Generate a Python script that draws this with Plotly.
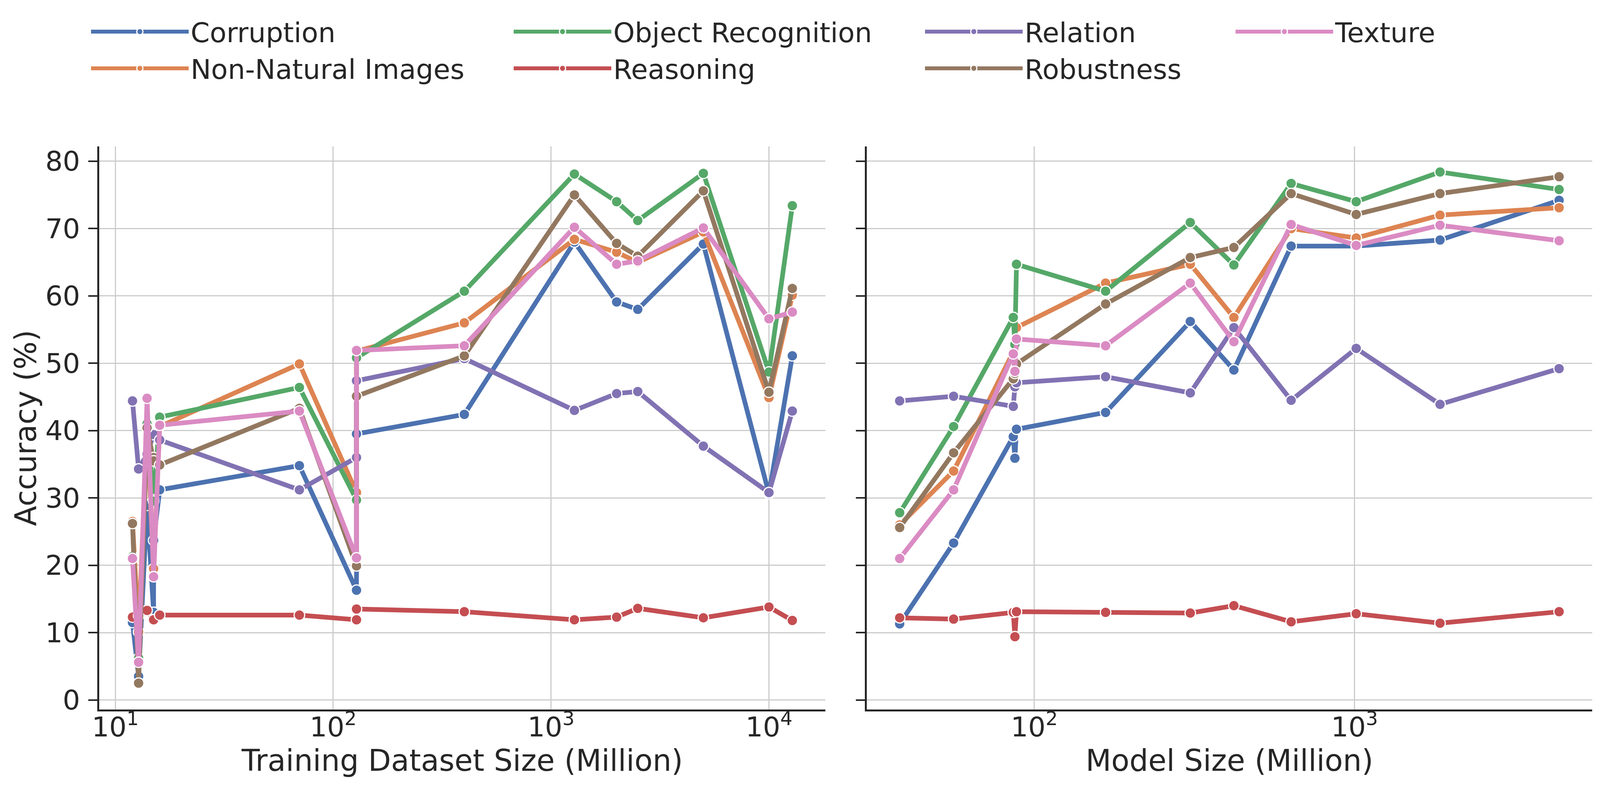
from plotly.graph_objs import Scatter, Figure

FONT = 'DejaVu Sans'
TEXT_COLOUR = '#262626'
GRID_COLOUR = '#cccccc'

CATEGORIES = ['Corruption', 'Non-Natural Images', 'Object Recognition', 'Reasoning',
              'Relation', 'Robustness', 'Texture']
COLOURS = ['#4c72b0', '#dd8452', '#55a868', '#c44e52', '#8172b3', '#937860', '#da8bc3']
LEGENDS = ['legend', 'legend', 'legend2', 'legend2', 'legend3', 'legend3', 'legend4']

# left panel: training dataset size (million)
data_size = [12, 12.8, 14, 15, 15, 16, 70, 128, 128, 400, 1280, 2000, 2500, 5000, 10000, 12800]
data_corruption = [11.5, 3.5, 28.9, 13.0, 23.7, 31.2, 34.8, 16.3, 39.5, 42.4, 68.0, 59.1, 58.0, 67.7, 30.6, 51.1]
data_non_natural = [26.5, 10.1, 40.5, 19.3, 19.5, 40.6, 49.9, 30.8, 51.8, 56.0, 68.4, 66.5, 65.0, 69.5, 44.9, 60.1]
data_object = [21.3, 6.2, 41.0, 29.7, 29.5, 42.0, 46.4, 29.7, 50.8, 60.7, 78.1, 74.0, 71.2, 78.2, 48.7, 73.4]
data_reasoning = [12.3, 12.5, 13.3, 11.9, 11.9, 12.6, 12.6, 11.9, 13.5, 13.1, 11.9, 12.3, 13.6, 12.2, 13.8, 11.8]
data_relation = [44.4, 34.3, 36.5, 39.5, 39.4, 38.6, 31.2, 36.0, 47.4, 50.7, 43.0, 45.5, 45.8, 37.7, 30.8, 42.9]
data_robustness = [26.2, 2.5, 40.4, 36.0, 35.5, 34.9, 43.3, 19.9, 45.1, 51.1, 75.0, 67.8, 65.9, 75.6, 45.7, 61.1]
data_texture = [21.0, 5.6, 44.8, 18.3, 18.3, 40.8, 42.9, 21.1, 51.9, 52.6, 70.2, 64.7, 65.2, 70.1, 56.6, 57.6]

# right panel: model size (million)
model_size = [38, 56, 86, 87, 88, 167, 307, 420, 634, 1012, 1849, 4352]
model_corruption = [11.3, 23.3, 39.1, 35.9, 40.2, 42.7, 56.2, 49.0, 67.4, 67.4, 68.3, 74.2]
model_non_natural = [26.0, 34.0, 51.7, 52.5, 55.3, 61.9, 64.7, 56.8, 70.0, 68.6, 72.0, 73.1]
model_object = [27.8, 40.6, 56.8, 52.8, 64.7, 60.7, 70.9, 64.6, 76.7, 74.0, 78.4, 75.8]
model_reasoning = [12.2, 12.0, 13.0, 9.4, 13.1, 13.0, 12.9, 14.0, 11.6, 12.8, 11.4, 13.1]
model_relation = [44.4, 45.1, 43.6, 46.5, 47.1, 48.0, 45.6, 55.3, 44.5, 52.2, 43.9, 49.2]
model_robustness = [25.6, 36.7, 47.7, 48.5, 49.9, 58.8, 65.7, 67.2, 75.2, 72.1, 75.2, 77.7]
model_texture = [21.0, 31.2, 51.4, 48.8, 53.6, 52.6, 61.9, 53.2, 70.6, 67.5, 70.5, 68.2]

data_ticks = [10, 100, 1000, 10000]
data_tick_text = ['10<sup>1</sup>', '10<sup>2</sup>', '10<sup>3</sup>', '10<sup>4</sup>']
model_ticks = [100, 1000]
model_tick_text = ['10<sup>2</sup>', '10<sup>3</sup>']

data_series = [data_corruption, data_non_natural, data_object, data_reasoning,
               data_relation, data_robustness, data_texture]
model_series = [model_corruption, model_non_natural, model_object, model_reasoning,
                model_relation, model_robustness, model_texture]


def make_trace(x, y, name, colour, xaxis, yaxis, legend, show):
    return Scatter(x=x, y=y, name=name, mode='lines+markers',
                   xaxis=xaxis, yaxis=yaxis,
                   line=dict(color=colour, width=12),
                   marker=dict(symbol='circle', size=27, color=colour,
                               line=dict(color='white', width=3)),
                   legend=legend, showlegend=show)


fig = Figure()
for name, colour, leg, ys in zip(CATEGORIES, COLOURS, LEGENDS, data_series):
    fig.add_trace(make_trace(data_size, ys, name, colour, 'x', 'y', leg, True))
for name, colour, leg, ys in zip(CATEGORIES, COLOURS, LEGENDS, model_series):
    fig.add_trace(make_trace(model_size, ys, name, colour, 'x2', 'y2', leg, False))

axis_common = dict(showgrid=True, gridcolor=GRID_COLOUR, gridwidth=3,
                   showline=True, linecolor=TEXT_COLOUR, linewidth=5,
                   zeroline=False,
                   tickfont=dict(family=FONT, size=70, color=TEXT_COLOUR))
title_font = dict(family=FONT, size=76, color=TEXT_COLOUR)

legend_common = dict(orientation='v', xanchor='left', yanchor='top', y=1.24,
                     font=dict(family=FONT, size=70, color=TEXT_COLOUR),
                     bgcolor='rgba(0,0,0,0)', itemwidth=250, tracegroupgap=0)

fig.update_layout(
    width=4098, height=2036,
    margin=dict(l=246, r=30, t=367, b=227),
    paper_bgcolor='white', plot_bgcolor='white',
    font=dict(family=FONT, color=TEXT_COLOUR),
    xaxis=dict(axis_common, type='log', domain=[0, 0.4864], range=[0.9265, 4.259],
               tickvals=data_ticks, ticktext=data_tick_text, ticks='',
               ticklabelstandoff=-20, anchor='y',
               title=dict(text='Training Dataset Size (Million)', font=title_font, standoff=15)),
    xaxis2=dict(axis_common, type='log', domain=[0.5141, 1], range=[1.477, 3.742],
                tickvals=model_ticks, ticktext=model_tick_text, ticks='',
                ticklabelstandoff=-20, anchor='y2',
                title=dict(text='Model Size (Million)', font=title_font, standoff=15)),
    yaxis=dict(axis_common, range=[-1.42, 82.2], dtick=10, ticks='outside',
               ticklen=23, tickwidth=4, tickcolor=TEXT_COLOUR, ticklabelstandoff=7,
               anchor='x',
               title=dict(text='Accuracy (%)', font=title_font, standoff=0)),
    yaxis2=dict(axis_common, range=[-1.42, 82.2], dtick=10, ticks='outside',
                ticklen=23, tickwidth=4, tickcolor=TEXT_COLOUR, showticklabels=False,
                anchor='x2'),
    legend=dict(legend_common, x=-0.0068),
    legend2=dict(legend_common, x=0.2763),
    legend3=dict(legend_common, x=0.5518),
    legend4=dict(legend_common, x=0.7598),
)

fig.write_html('out.html')
